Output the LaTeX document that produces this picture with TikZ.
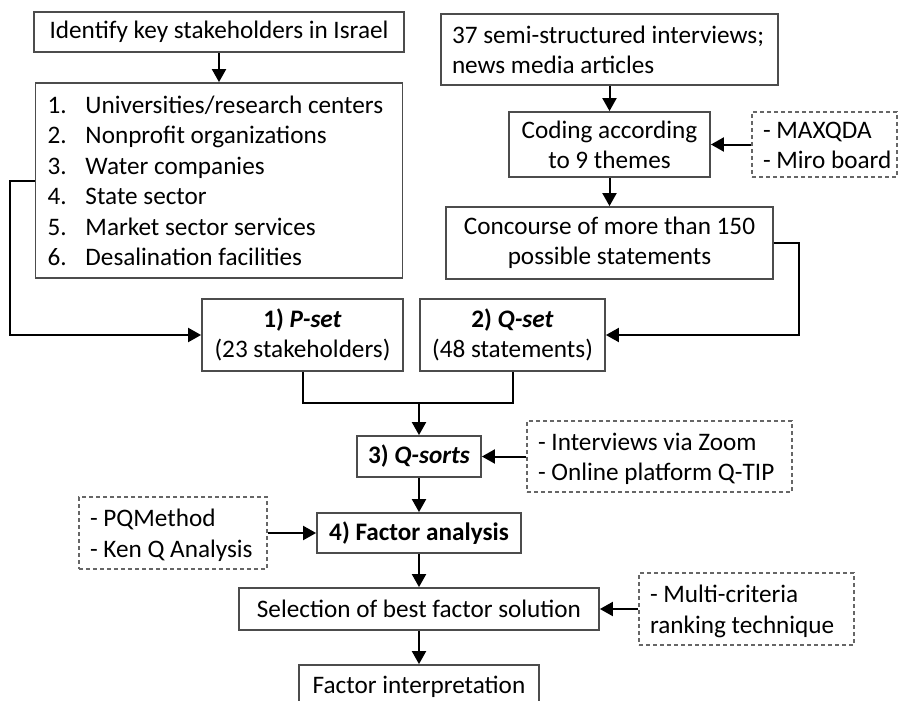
\documentclass[tikz,border=0pt]{standalone}
\usepackage{fontspec}
\setmainfont{Carlito}
\usetikzlibrary{arrows.meta,positioning}
\newcommand\boxrows[2][l]{\raisebox{-3pt}[\height][\depth]{\begin{tabular}{@{}#1@{}}#2\end{tabular}}}

\begin{document}
\begin{tikzpicture}[x=1pt,y=-1pt,on grid,
   font=\fontsize{25.2pt}{30.5pt}\selectfont,
   box/.style={draw=black!70,line width=1.8pt,inner sep=0pt,align=center},
   listbox/.style={draw=black!70,line width=1.8pt,inner xsep=11pt,inner ysep=0pt,align=flush left},
   tool/.style={draw=black!60,line width=1.2pt,dash pattern=on 4pt off 3pt,
                inner xsep=11pt,inner ysep=0pt,align=flush left},
   flow/.style={line width=2pt,-{Triangle[length=13pt,width=14pt]}},
   link/.style={line width=2pt}]
   \useasboundingbox (0,0) rectangle (898,701);

   \node[box,minimum width=370pt,minimum height=40pt] (ident) at (219,32) {Identify key stakeholders in Israel};
   \node[listbox,inner xsep=12pt,text width=343pt,minimum height=195pt] (groups) [below=148.5pt of ident]
      {\raisebox{-3pt}[\height][\depth]{\begin{tabular}{@{}p{38pt}@{}l@{}}
       1. & Universities/research centers\\
       2. & Nonprofit organizations\\
       3. & Water companies\\
       4. & State sector\\
       5. & Market sector services\\
       6. & Desalination facilities
       \end{tabular}}};

   \node[listbox,text width=315pt,minimum height=71pt] (interviews) at (609.5,49.5)
      {\boxrows{37 semi-structured interviews;\\news media articles}};
   \node[box,minimum width=201pt,minimum height=65pt] (coding) [below=95pt of interviews]
      {\boxrows[c]{Coding according\\to 9 themes}};
   \node[tool,text width=123pt,minimum height=65pt] (maxqda) [right=215pt of coding]
      {\boxrows{- MAXQDA\\- Miro board}};
   \node[box,minimum width=327pt,minimum height=72pt] (concourse) [below=98.5pt of coding]
      {Concourse of more than 150\\possible statements};

   \node[box,minimum width=201pt,minimum height=72pt] (pset) at (302.5,335)
      {\textbf{1) \textit{P-set}}\\(23 stakeholders)};
   \node[box,minimum width=185pt,minimum height=72pt] (qset) [right=210pt of pset]
      {\textbf{2) \textit{Q-set}}\\(48 statements)};

   \node[box,minimum width=124pt,minimum height=41pt] (qsorts) at (419,456.5) {\textbf{3) \textit{Q-sorts}}};
   \node[tool,text width=243pt,minimum height=71pt] (zoom) [right=240.5pt of qsorts]
      {\boxrows{- Interviews via Zoom\\- Online platform Q-TIP}};
   \node[box,minimum width=204pt,minimum height=40pt] (factor) [below=76.5pt of qsorts] {\textbf{4) Factor analysis}};
   \node[tool,text width=166pt,minimum height=72pt] (pqmethod) [left=246pt of factor]
      {\boxrows{- PQMethod\\- Ken Q Analysis}};
   \node[box,minimum width=360pt,minimum height=42pt] (selection) [below=76pt of factor]
      {Selection of best factor solution};
   \node[tool,text width=193pt,minimum height=72pt] (ranking) [right=327.5pt of selection]
      {\boxrows{- Multi-criteria\\ranking technique}};
   \node[box,minimum width=240pt,minimum height=44pt] (interp) [below=78pt of selection] {Factor interpretation};

   \coordinate (join) at (419,403);

   \draw[flow] (ident) -- (groups);
   \draw[flow] (groups.west) -- ++(-25pt,0) |- (pset.west);
   \draw[flow] (interviews) -- (coding);
   \draw[flow] (maxqda) -- (coding);
   \draw[flow] (coding) -- (concourse);
   \draw[flow] (concourse.east) -- ++(25pt,0) |- (qset.east);
   \draw[link] (pset.south) |- (join) -| (qset.south);
   \draw[flow] (join) -- (qsorts);
   \draw[flow] (zoom) -- (qsorts);
   \draw[flow] (qsorts) -- (factor);
   \draw[flow] (pqmethod) -- (factor);
   \draw[flow] (factor) -- (selection);
   \draw[flow] (ranking) -- (selection);
   \draw[flow] (selection) -- (interp);
\end{tikzpicture}
\end{document}
